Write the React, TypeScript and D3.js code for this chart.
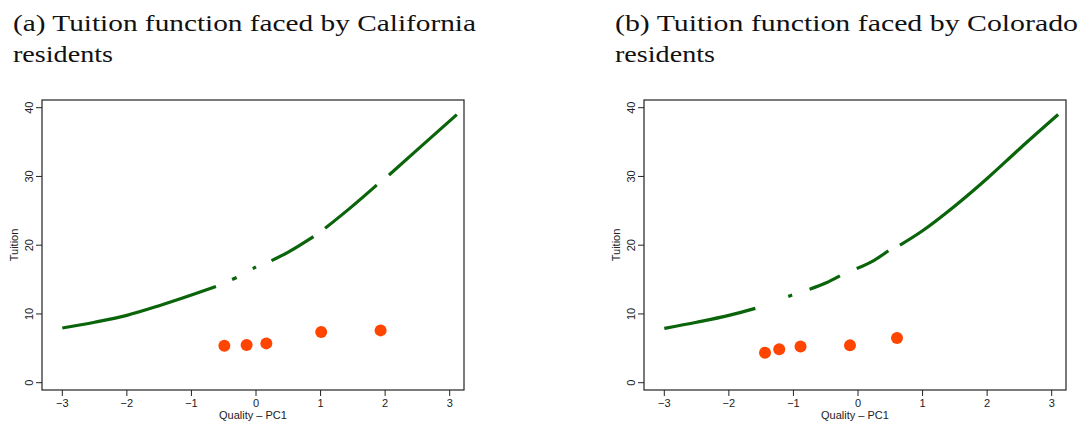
import React from "react";
import * as d3 from "d3";

type Pt = [number, number];

const xTicks = [-3, -2, -1, 0, 1, 2, 3];
const yTicks = [0, 10, 20, 30, 40];

const titleA = ["(a) Tuition function faced by California", "residents"];
const titleB = ["(b) Tuition function faced by Colorado", "residents"];

const curveA: Pt[][] = [
  [[-3, 7.95], [-2.5, 8.8], [-2, 9.8], [-1.5, 11.2], [-1, 12.75], [-0.62, 14.0]],
  [[-0.37, 15.0], [-0.3, 15.3]],
  [[-0.05, 16.6], [0.0, 16.85]],
  [[0.24, 17.75], [0.5, 19.0], [0.89, 21.25]],
  [[1.07, 22.45], [1.47, 25.5], [1.87, 28.75]],
  [[2.06, 30.2], [2.5, 33.9], [3.11, 39.0]],
];
const dotsA: Pt[] = [[-0.49, 5.38], [-0.145, 5.48], [0.16, 5.72], [1.01, 7.37], [1.93, 7.61]];

const curveB: Pt[][] = [
  [[-3, 7.9], [-2.5, 8.8], [-2, 9.8], [-1.59, 10.82]],
  [[-1.08, 12.55], [-1.02, 12.75]],
  [[-0.75, 13.6], [-0.5, 14.5], [-0.28, 15.55]],
  [[-0.02, 16.6], [0.25, 17.8], [0.47, 19.2]],
  [[0.65, 20.0], [1.0, 22.1], [1.5, 25.7], [2.0, 29.7], [2.5, 34.0], [3.1, 39.0]],
];
const dotsB: Pt[] = [[-1.44, 4.36], [-1.22, 4.85], [-0.89, 5.28], [-0.124, 5.43], [0.604, 6.5]];

const fmt = (v: number) => (v < 0 ? "\u2212" + Math.abs(v) : String(v));

function Panel({ ox, title, titleLen, curve, dots }: { ox: number; title: string[]; titleLen: number[]; curve: Pt[][]; dots: Pt[] }) {
  const left = ox + 42, right = ox + 464, top = 100, bottom = 390;
  const x = d3.scaleLinear().domain([-3, 3]).range([ox + 62.3, ox + 449.7]);
  const y = d3.scaleLinear().domain([0, 40]).range([382.7, 107.7]);
  const line = d3.line<Pt>().x((d) => x(d[0])).y((d) => y(d[1])).curve(d3.curveMonotoneX);
  const sans = "'Liberation Sans', Arial, sans-serif";
  return (
    <g>
      <text x={ox + 13} y={31} fontFamily="'Liberation Serif', serif" fontSize={24} fill="#111" textLength={titleLen[0]} lengthAdjust="spacingAndGlyphs">{title[0]}</text>
      <text x={ox + 13} y={62} fontFamily="'Liberation Serif', serif" fontSize={24} fill="#111" textLength={titleLen[1]} lengthAdjust="spacingAndGlyphs">{title[1]}</text>
      <rect x={left} y={top} width={right - left} height={bottom - top} fill="none" stroke="#222" strokeWidth={1.2} />
      {xTicks.map((t) => (
        <g key={"x" + t}>
          <line x1={x(t)} x2={x(t)} y1={bottom} y2={bottom + 6} stroke="#222" strokeWidth={1} />
          <text x={x(t)} y={407} textAnchor="middle" fontFamily={sans} fontSize={11} fill="#222">{fmt(t)}</text>
        </g>
      ))}
      {yTicks.map((t) => (
        <g key={"y" + t}>
          <line x1={left - 6} x2={left} y1={y(t)} y2={y(t)} stroke="#222" strokeWidth={1} />
          <text transform={`translate(${ox + 33},${y(t)}) rotate(-90)`} textAnchor="middle" fontFamily={sans} fontSize={11} fill="#222">{fmt(t)}</text>
        </g>
      ))}
      <text x={(left + right) / 2} y={419} textAnchor="middle" fontFamily={sans} fontSize={11} fill="#222">Quality – PC1</text>
      <text transform={`translate(${ox + 18},${(top + bottom) / 2}) rotate(-90)`} textAnchor="middle" fontFamily={sans} fontSize={11} fill="#222">Tuition</text>
      {curve.map((seg, i) => (
        <path key={"c" + i} d={line(seg) || ""} fill="none" stroke="#0a640a" strokeWidth={3.2} />
      ))}
      {dots.map((d, i) => (
        <circle key={"d" + i} cx={x(d[0])} cy={y(d[1])} r={6} fill="#ff4500" />
      ))}
    </g>
  );
}

export default function App() {
  return (
    <svg width={1086} height={425} style={{ position: "absolute", left: 0, top: 0, background: "#fff" }}>
      <rect width={1086} height={425} fill="#fff" />
      <Panel ox={0} title={titleA} titleLen={[463, 100]} curve={curveA} dots={dotsA} />
      <Panel ox={602} title={titleB} titleLen={[463, 100]} curve={curveB} dots={dotsB} />
    </svg>
  );
}
